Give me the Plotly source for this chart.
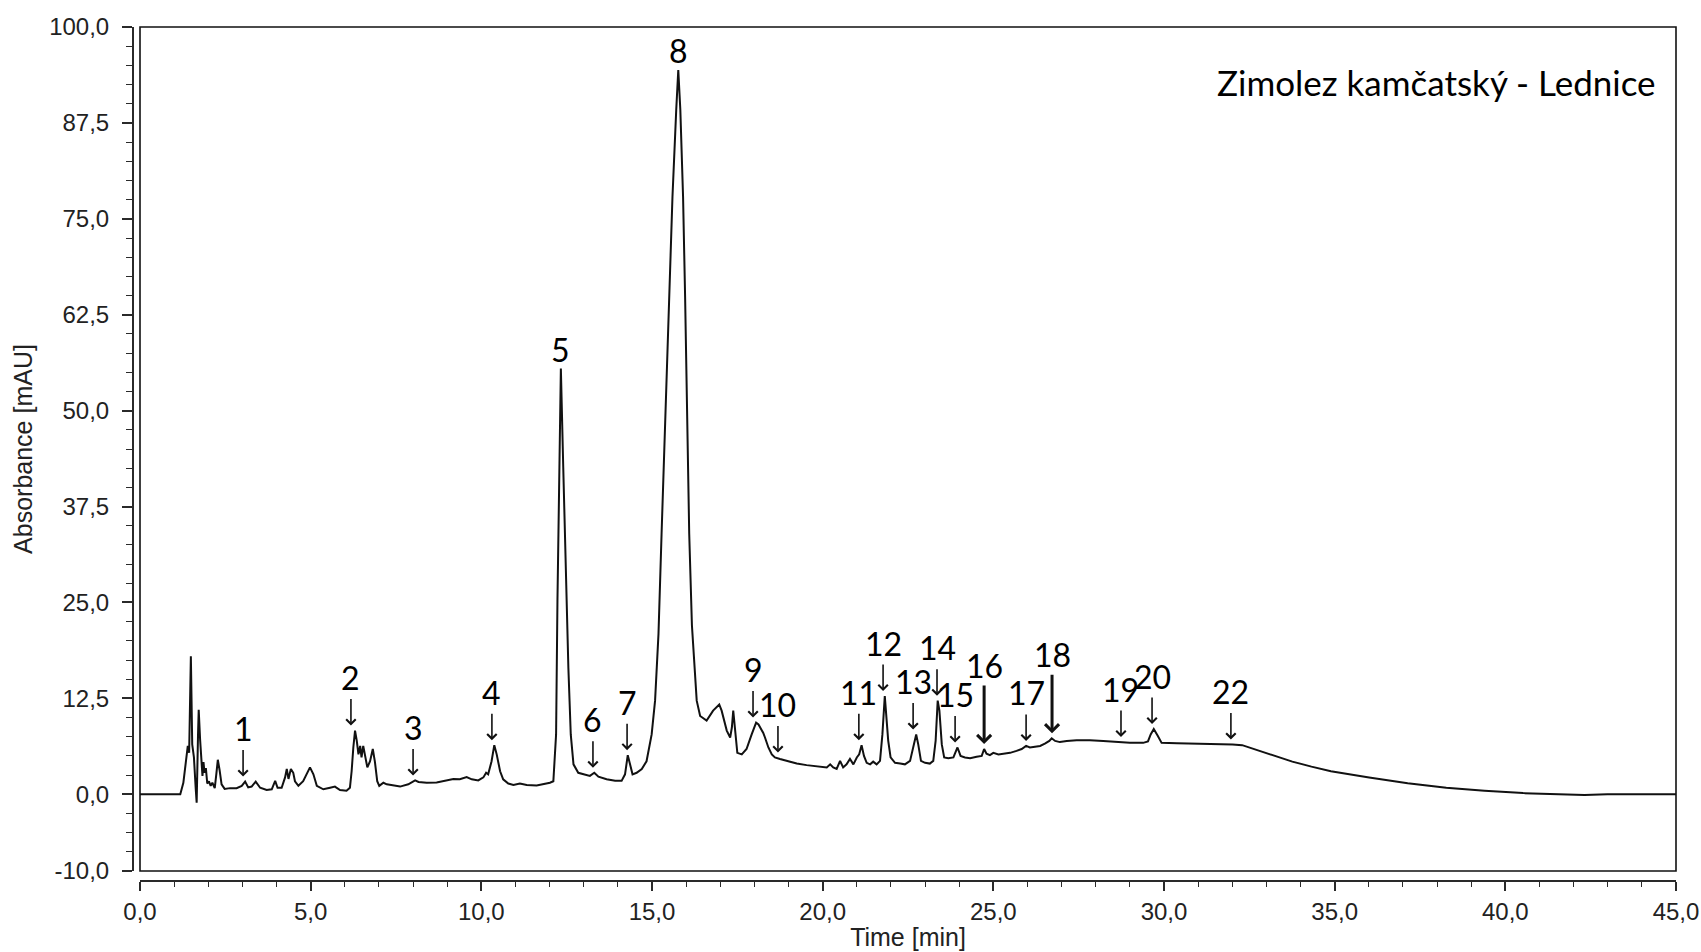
import numpy as np
import plotly.graph_objects as go

# Chromatogram trace: retention time [min] and detector absorbance [mAU]
retention_time = [
    0.00, 1.18, 1.27, 1.35, 1.40, 1.44, 1.49, 1.53, 1.58, 1.63, 1.66, 1.70, 1.72, 1.76, 1.79,
    1.83, 1.86, 1.89, 1.93, 1.97, 2.02, 2.07, 2.12, 2.19, 2.24, 2.28, 2.33, 2.39, 2.48, 2.64,
    2.83, 2.98, 3.08, 3.17, 3.27, 3.39, 3.52, 3.71, 3.86, 3.96, 4.03, 4.15, 4.25, 4.30, 4.35,
    4.42, 4.49, 4.54, 4.64, 4.78, 4.98, 5.08, 5.18, 5.37, 5.57, 5.71, 5.86, 6.05, 6.15, 6.20,
    6.25, 6.30, 6.35, 6.40, 6.45, 6.49, 6.54, 6.59, 6.66, 6.74, 6.82, 6.88, 6.95, 7.01, 7.13,
    7.23, 7.42, 7.62, 7.86, 8.06, 8.16, 8.40, 8.69, 8.99, 9.18, 9.37, 9.57, 9.72, 9.91, 10.06,
    10.14, 10.20, 10.30, 10.38, 10.45, 10.55, 10.64, 10.79, 10.94, 11.13, 11.33, 11.62, 11.82, 12.01, 12.11,
    12.19, 12.23, 12.28, 12.33, 12.40, 12.47, 12.55, 12.62, 12.70, 12.84, 13.04, 13.18, 13.31, 13.43, 13.67,
    13.92, 14.11, 14.21, 14.29, 14.35, 14.43, 14.55, 14.70, 14.84, 14.99, 15.09, 15.19, 15.28, 15.40, 15.50,
    15.60, 15.71, 15.77, 15.83, 15.91, 15.97, 16.03, 16.09, 16.17, 16.25, 16.31, 16.41, 16.60, 16.79, 16.97,
    17.04, 17.19, 17.29, 17.34, 17.38, 17.43, 17.50, 17.63, 17.77, 17.92, 18.05, 18.12, 18.18, 18.26, 18.31,
    18.41, 18.51, 18.60, 18.75, 18.99, 19.24, 19.53, 19.83, 20.12, 20.22, 20.31, 20.41, 20.51, 20.60, 20.70,
    20.80, 20.90, 21.00, 21.07, 21.14, 21.21, 21.29, 21.39, 21.48, 21.58, 21.68, 21.75, 21.82, 21.87, 21.92,
    21.99, 22.12, 22.27, 22.41, 22.56, 22.66, 22.74, 22.80, 22.88, 23.00, 23.14, 23.24, 23.31, 23.37, 23.42,
    23.49, 23.56, 23.68, 23.83, 23.95, 24.04, 24.17, 24.32, 24.51, 24.66, 24.73, 24.80, 24.90, 25.00, 25.15,
    25.29, 25.49, 25.68, 25.83, 25.96, 26.07, 26.22, 26.37, 26.51, 26.64, 26.71, 26.81, 26.95, 27.15, 27.44,
    27.83, 28.22, 28.61, 29.00, 29.39, 29.53, 29.61, 29.70, 29.82, 29.93, 30.38, 30.94, 31.51, 32.01, 32.29,
    32.63, 33.19, 33.76, 34.32, 34.89, 36.01, 37.14, 38.27, 39.39, 40.52, 41.64, 42.32, 42.99, 45.00,
]
absorbance_mau = [
    0.00, 0.00, 1.50, 4.80, 6.30, 5.40, 18.00, 6.50, 4.80, 0.90, -1.10, 7.80, 11.00, 7.20, 4.50,
    2.40, 4.20, 2.80, 3.40, 1.40, 1.70, 1.10, 1.50, 0.80, 2.80, 4.50, 3.20, 1.30, 0.70, 0.80,
    0.80, 1.10, 1.65, 0.90, 1.00, 1.65, 0.85, 0.55, 0.65, 1.75, 0.85, 0.85, 2.20, 3.30, 2.00,
    3.30, 2.80, 1.70, 1.10, 1.70, 3.50, 2.60, 1.10, 0.65, 0.85, 1.00, 0.55, 0.45, 0.85, 3.00,
    6.10, 8.30, 7.00, 5.20, 6.30, 4.80, 6.30, 5.20, 3.50, 4.30, 5.90, 4.30, 1.70, 1.10, 1.50,
    1.30, 1.20, 1.00, 1.30, 1.80, 1.60, 1.50, 1.55, 1.80, 2.00, 1.95, 2.25, 1.95, 1.80, 2.20,
    2.80, 2.60, 4.30, 6.40, 5.20, 3.00, 1.95, 1.40, 1.20, 1.40, 1.20, 1.15, 1.30, 1.50, 1.70,
    7.80, 25.20, 42.60, 55.50, 42.60, 29.60, 16.50, 7.80, 3.90, 2.80, 2.60, 2.40, 2.80, 2.30, 1.95,
    1.75, 1.75, 2.60, 5.10, 3.90, 2.60, 2.80, 3.30, 4.30, 7.80, 12.20, 20.90, 33.90, 51.00, 64.60,
    77.90, 89.20, 94.40, 89.20, 77.90, 64.80, 50.00, 34.00, 22.00, 16.00, 12.20, 10.20, 9.60, 10.90, 11.70,
    10.90, 8.30, 7.40, 8.70, 10.90, 8.70, 5.40, 5.20, 5.90, 7.80, 9.35, 9.10, 8.70, 8.00, 7.40,
    6.10, 5.20, 4.80, 4.60, 4.35, 4.00, 3.80, 3.60, 3.50, 3.90, 3.50, 3.30, 4.35, 3.50, 3.90,
    4.60, 3.90, 4.80, 5.20, 6.40, 5.00, 4.10, 3.90, 4.25, 3.90, 4.35, 7.80, 12.80, 10.40, 7.00,
    4.80, 4.10, 4.00, 3.90, 4.35, 6.10, 7.80, 6.50, 4.35, 4.10, 4.00, 4.35, 7.00, 12.20, 10.90,
    6.50, 4.80, 4.70, 4.80, 6.10, 5.00, 4.80, 4.70, 4.90, 5.00, 5.90, 5.30, 5.10, 5.40, 5.20,
    5.30, 5.40, 5.65, 5.90, 6.30, 6.10, 6.20, 6.30, 6.60, 6.95, 7.30, 6.95, 6.80, 6.95, 7.05,
    7.05, 6.95, 6.80, 6.70, 6.70, 6.90, 7.80, 8.50, 7.60, 6.70, 6.65, 6.60, 6.60, 6.50, 6.40,
    5.90, 5.00, 4.25, 3.60, 3.00, 2.20, 1.45, 0.85, 0.45, 0.15, -0.05, -0.10, 0.00, 0.00,
]

# Identified compounds: peak number and retention time where it is marked
peak_numbers = ["1", "2", "3", "4", "5", "6", "7", "8", "9", "10", "11",
                "12", "13", "14", "15", "16", "17", "18", "19", "20", "22"]
peak_times = [3.02, 6.18, 8.00, 10.31, 12.33, 13.27, 14.27, 15.77, 17.96, 18.69, 21.06,
              21.77, 22.65, 23.35, 23.88, 24.73, 25.96, 26.72, 28.74, 29.65, 31.96]

# Axis ticks (decimal comma, plain hyphen for negatives)
x_tick_values = [0.0, 5.0, 10.0, 15.0, 20.0, 25.0, 30.0, 35.0, 40.0, 45.0]
x_tick_labels = ["0,0", "5,0", "10,0", "15,0", "20,0", "25,0", "30,0", "35,0", "40,0", "45,0"]
y_tick_values = [-10.0, 0.0, 12.5, 25.0, 37.5, 50.0, 62.5, 75.0, 87.5, 100.0]
y_tick_labels = ["-10,0", "0,0", "12,5", "25,0", "37,5", "50,0", "62,5", "75,0", "87,5", "100,0"]

sample_name = "Zimolez kamčatský - Lednice"

# ---- styling ----
INK = "#111111"
AXIS_INK = "#2a2a2a"
TICK_FONT = dict(family="Liberation Sans, Arial, sans-serif", size=24, color="#222222")
TITLE_FONT = dict(family="Liberation Sans, Arial, sans-serif", size=25, color="#222222")
LABEL_FONT = dict(family="Lato, Open Sans, sans-serif", size=32, color="#000000")
UNLABELLED_ARROW = {"5", "8"}     # marked by number only
BOLD_ARROW = {"16", "18"}         # longer, heavier arrows

W, H = 1701, 952
ML, MR, MT, MB = 133, 25, 27, 71
plot_w = W - ML - MR
plot_h = H - MT - MB

t_arr = np.asarray(retention_time)
a_arr = np.asarray(absorbance_mau)

fig = go.Figure()
fig.add_trace(go.Scatter(
    x=retention_time, y=absorbance_mau, mode="lines",
    line=dict(color=INK, width=2.0), hoverinfo="x+y", showlegend=False,
))

annotations = []
for num, t in zip(peak_numbers, peak_times):
    window = (t_arr >= t - 0.15) & (t_arr <= t + 0.15)
    top = float(a_arr[window].max())
    if num in UNLABELLED_ARROW:
        annotations.append(dict(
            x=t, y=top, xref="x", yref="y", text=num, showarrow=False,
            xanchor="center", yanchor="middle", yshift=19, font=LABEL_FONT,
        ))
        continue
    bold = num in BOLD_ARROW
    tail = 64 if bold else 32
    annotations.append(dict(
        x=t, y=top, xref="x", yref="y", text="", showarrow=True,
        ax=0, ay=-tail, standoff=5, arrowhead=4,
        arrowsize=0.9 if bold else 1.15, arrowwidth=3.0 if bold else 1.6,
        arrowcolor=INK, borderpad=0,
    ))
    annotations.append(dict(
        x=t, y=top, xref="x", yref="y", text=num, showarrow=False,
        xanchor="center", yanchor="middle", yshift=84 if bold else 53,
        font=LABEL_FONT,
    ))

annotations.append(dict(
    x=(1658 - ML) / plot_w, y=(H - MB - 82) / plot_h, xref="paper", yref="paper",
    text=sample_name, showarrow=False, xanchor="right", yanchor="middle",
    font=dict(family="Lato, Open Sans, sans-serif", size=35, color="#000000"),
))

fig.update_layout(
    width=W, height=H,
    margin=dict(l=ML, r=MR, t=MT, b=MB, autoexpand=False),
    paper_bgcolor="white", plot_bgcolor="white",
    annotations=annotations,
    shapes=[dict(
        type="rect", xref="x domain", yref="y domain", x0=0, x1=1, y0=0, y1=1,
        line=dict(color=INK, width=1.6), layer="above",
    )],
    xaxis=dict(
        domain=[7 / plot_w, 1], range=[0, 45], anchor="free", position=0,
        tickmode="array", tickvals=x_tick_values, ticktext=x_tick_labels,
        ticks="outside", ticklen=9, tickwidth=1.6, tickcolor=AXIS_INK,
        minor=dict(tick0=0, dtick=1, ticks="outside", ticklen=5, tickwidth=1.3,
                   tickcolor=AXIS_INK, showgrid=False),
        showline=True, linecolor=AXIS_INK, linewidth=2,
        showgrid=False, zeroline=False, automargin=False,
        tickfont=TICK_FONT,
        title=dict(text="Time [min]", font=TITLE_FONT, standoff=4),
    ),
    yaxis=dict(
        domain=[10 / plot_h, 1], range=[-10, 100], anchor="free", position=0,
        tickmode="array", tickvals=y_tick_values, ticktext=y_tick_labels,
        ticks="outside", ticklen=10, tickwidth=1.6, tickcolor=AXIS_INK,
        minor=dict(tick0=0, dtick=2.5, ticks="outside", ticklen=6, tickwidth=1.3,
                   tickcolor=AXIS_INK, showgrid=False),
        showline=True, linecolor=AXIS_INK, linewidth=2,
        showgrid=False, zeroline=False, automargin=False,
        tickfont=TICK_FONT, ticklabelstandoff=8,
        title=dict(text="Absorbance [mAU]", font=TITLE_FONT, standoff=8),
    ),
)

fig.write_html("out.html")
